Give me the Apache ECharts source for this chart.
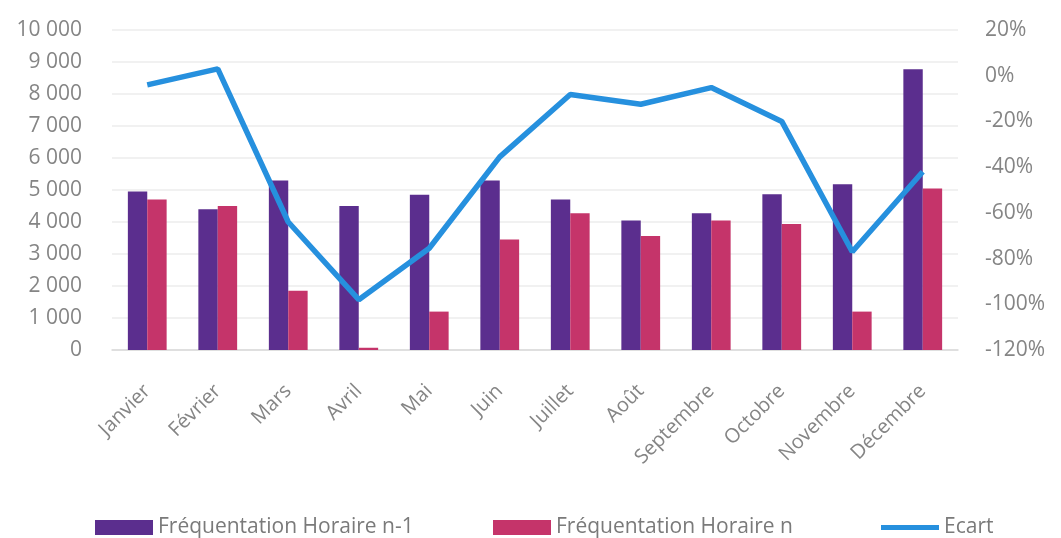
<!DOCTYPE html>
<html>
<head>
<meta charset="utf-8">
<script src="https://cdn.jsdelivr.net/npm/echarts@6/dist/echarts.min.js"></script>
<style>
  html, body { margin: 0; padding: 0; background: #fff; }
  #chart { width: 1061px; height: 538px; }
</style>
</head>
<body>
<div id="chart"></div>
<script>
// categories
var mois = ['Janvier', 'Février', 'Mars', 'Avril', 'Mai', 'Juin', 'Juillet', 'Août', 'Septembre', 'Octobre', 'Novembre', 'Décembre'];
// series values
var freqN1 = [4950, 4400, 5300, 4500, 4850, 5300, 4700, 4050, 4270, 4870, 5180, 8770];
var freqN = [4700, 4500, 1850, 70, 1200, 3450, 4270, 3560, 4050, 3940, 1200, 5050];
var ecart = [-0.04, 0.03, -0.64, -0.98, -0.755, -0.355, -0.082, -0.125, -0.052, -0.20, -0.77, -0.42];

var font = 'Open Sans';
var grey = '#858585';

var myEcharts = echarts.init(document.getElementById('chart'));

var option = {
  animation: false,
  backgroundColor: '#fff',
  grid: { left: 112, right: 103, top: 30, bottom: 188 },
  legend: [
    {
      left: 90, top: 512, icon: 'rect', itemWidth: 58, itemHeight: 15,
      textStyle: { color: '#7a7a7a', fontFamily: font, fontSize: 21 },
      data: ['Fréquentation Horaire n-1']
    },
    {
      left: 488, top: 512, icon: 'rect', itemWidth: 58, itemHeight: 15,
      textStyle: { color: '#7a7a7a', fontFamily: font, fontSize: 21 },
      data: ['Fréquentation Horaire n']
    },
    {
      left: 876, top: 512, icon: 'rect', itemWidth: 58, itemHeight: 5,
      textStyle: { color: '#7a7a7a', fontFamily: font, fontSize: 21 },
      data: ['Ecart']
    }
  ],
  xAxis: {
    type: 'category',
    data: mois,
    axisTick: { show: false },
    axisLine: { lineStyle: { color: '#d9d9d9', width: 1.5 } },
    axisLabel: {
      interval: 0,
      rotate: 45,
      margin: 38,
      color: grey,
      fontFamily: font,
      fontSize: 20
    }
  },
  yAxis: [
    {
      type: 'value',
      min: 0,
      max: 10000,
      interval: 1000,
      axisLine: { show: false },
      axisTick: { show: false },
      splitLine: { lineStyle: { color: '#ececec', width: 1.5 } },
      axisLabel: {
        margin: 30,
        color: grey,
        fontFamily: font,
        fontSize: 21,
        formatter: function (v) {
          return String(v).replace(/\B(?=(\d{3})+(?!\d))/g, ' ');
        }
      }
    },
    {
      type: 'value',
      min: -1.2,
      max: 0.2,
      interval: 0.2,
      axisLine: { show: false },
      axisTick: { show: false },
      splitLine: { show: false },
      axisLabel: {
        margin: 27,
        color: grey,
        fontFamily: font,
        fontSize: 21,
        formatter: function (v) {
          return Math.round(v * 100) + '%';
        }
      }
    }
  ],
  series: [
    {
      name: 'Fréquentation Horaire n-1',
      type: 'bar',
      data: freqN1,
      barGap: 0,
      barCategoryGap: '45%',
      itemStyle: { color: '#5b2e8e' }
    },
    {
      name: 'Fréquentation Horaire n',
      type: 'bar',
      data: freqN,
      itemStyle: { color: '#c5346a' }
    },
    {
      name: 'Ecart',
      type: 'line',
      yAxisIndex: 1,
      data: ecart,
      showSymbol: false,
      symbol: 'none',
      lineStyle: { color: '#2690de', width: 5.5 },
      itemStyle: { color: '#2690de' }
    }
  ]
};

myEcharts.setOption(option, true);
</script>
</body>
</html>
